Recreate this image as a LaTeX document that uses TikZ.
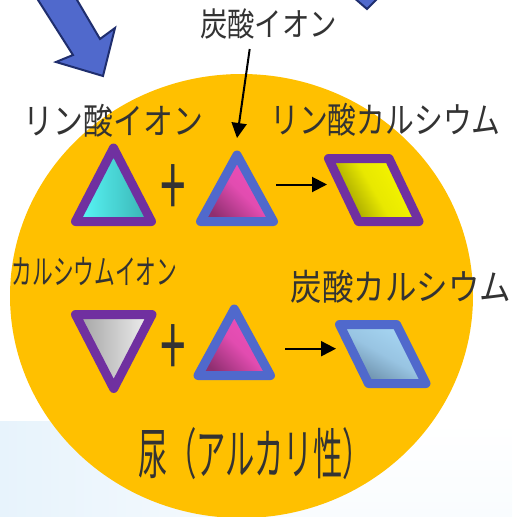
\documentclass[tikz,border=0pt]{standalone}
\usepackage{fontspec}
\usetikzlibrary{arrows.meta,shadings}
\newfontfamily\jpfont{Noto Sans CJK JP}
\definecolor{orangeY}{HTML}{FFC000}
\definecolor{txt}{HTML}{333333}
\definecolor{purp}{HTML}{7030A0}
\definecolor{blu}{HTML}{5069CC}
\definecolor{navy}{HTML}{1F2E6E}
\definecolor{paleA}{HTML}{E7F3FC}
\definecolor{paleB}{HTML}{F9FCFE}
\definecolor{cyanA}{HTML}{5AFAFA}
\definecolor{cyanB}{HTML}{38B0B0}
\definecolor{pinkA}{HTML}{EE4FBC}
\definecolor{pinkB}{HTML}{E24CB0}
\definecolor{pinkC}{HTML}{8F2F70}
\definecolor{greyA}{HTML}{A0A0A0}
\definecolor{greyB}{HTML}{F2F2F2}
\definecolor{yelA}{HTML}{F8F800}
\definecolor{yelB}{HTML}{E8E800}
\definecolor{yelC}{HTML}{8C8C00}
\definecolor{skyA}{HTML}{A8D8F5}
\definecolor{skyB}{HTML}{98C4E2}
\definecolor{skyC}{HTML}{6688A2}
\newcommand{\jp}[3]{\fontsize{#1}{#1}\selectfont\jpfont\scalebox{#2}[1]{#3}}
\tikzset{
  x=1pt,y=-1pt,
  lbl/.style={inner sep=0pt,text=txt},
  bigarrow/.style={draw=navy,line width=2pt,fill=blu,line join=miter},
  purpline/.style={draw=purp,line width=9pt,line join=round},
  blueline/.style={draw=blu,line width=9pt,line join=round},
  conn/.style={draw=black,line width=2pt,-{Triangle[length=15pt,width=15pt]}},
  pinkshade/.style={left color=pinkC,right color=pinkA,middle color=pinkB,shading angle=135},
  yellowshade/.style={left color=yelC,right color=yelA,middle color=yelB,shading angle=120},
  skyshade/.style={left color=skyC,right color=skyA,middle color=skyB,shading angle=150},
}
\begin{document}
\begin{tikzpicture}
\useasboundingbox (0,0) rectangle (512,517);
\fill[white] (0,0) rectangle (512,517);
% pale background band
\shade[left color=paleA,right color=paleB] (0,421) rectangle (300,517);
\shade[top color=white,bottom color=paleB] (300,421) rectangle (512,517);
% urine ellipse
\fill[orangeY] (241.5,296) ellipse [x radius=231.5,y radius=222];
% big arrows
\draw[bigarrow] (35.5,-4) -- (73,55) -- (56,62) -- (103,76) -- (115,28) -- (100,39) -- (74.7,-4) -- cycle;
\draw[bigarrow] (352,-4) -- (367,9) -- (380,-4) -- cycle;
% labels
\node[lbl] (carb) at (268.5,24) {\jp{33}{.83}{炭酸イオン}};
\node[lbl] (phos) at (113.5,121) {\jp{36}{.83}{リン酸イオン}};
\node[lbl] (caph) at (385.5,120) {\jp{36}{.80}{リン酸カルシウム}};
\node[lbl] (cai) at (94.5,272) {\jp{34}{.61}{カルシウムイオン}};
\node[lbl] (caco) at (401,287) {\jp{36}{.875}{炭酸カルシウム}};
\node[lbl] (urine) at (255,454) {\jp{55}{.533}{尿（アルカリ性）}};
\node[lbl] (plusa) at (173.5,191) {\scalebox{1}[1.67]{\jp{50}{.92}{+}}};
\node[lbl] (plusb) at (173.5,351) {\scalebox{1}[1.67]{\jp{50}{.92}{+}}};
% phosphate triangle
\shade[left color=cyanA,right color=cyanB] (75.5,221.5) -- (151.5,221.5) -- (113.5,148) -- cycle;
\draw[purpline] (75.5,221.5) -- (151.5,221.5) -- (113.5,148) -- cycle;
% carbonate triangle 1
\shade[pinkshade] (200.5,221.5) -- (273.5,221.5) -- (237,155) -- cycle;
\draw[blueline] (200.5,221.5) -- (273.5,221.5) -- (237,155) -- cycle;
% calcium triangle
\shade[left color=greyA,right color=greyB] (75.5,314.5) -- (152,314.5) -- (113.7,388.5) -- cycle;
\draw[purpline] (75.5,314.5) -- (152,314.5) -- (113.7,388.5) -- cycle;
% carbonate triangle 2
\shade[pinkshade] (198,375.5) -- (270.5,375.5) -- (234.3,309) -- cycle;
\draw[blueline] (198,375.5) -- (270.5,375.5) -- (234.3,309) -- cycle;
% yellow parallelogram
\shade[yellowshade] (328.5,158.5) -- (389,158.5) -- (419,221.5) -- (358.5,221.5) -- cycle;
\draw[purpline] (328.5,158.5) -- (389,158.5) -- (419,221.5) -- (358.5,221.5) -- cycle;
% blue parallelogram
\shade[skyshade] (339.5,324.5) -- (396.5,324.5) -- (426,383.5) -- (368.5,383.5) -- cycle;
\draw[blueline] (339.5,324.5) -- (396.5,324.5) -- (426,383.5) -- (368.5,383.5) -- cycle;
% connectors
\coordinate (a1s) at (249.7,49);
\coordinate (a1e) at (237,138);
\coordinate (a2s) at (276,184.5);
\coordinate (a2e) at (327,184.5);
\coordinate (a3s) at (285,348.7);
\coordinate (a3e) at (336,348.7);
\draw[conn] (a1s) -- (a1e);
\draw[conn] (a2s) -- (a2e);
\draw[conn] (a3s) -- (a3e);
\end{tikzpicture}
\end{document}
